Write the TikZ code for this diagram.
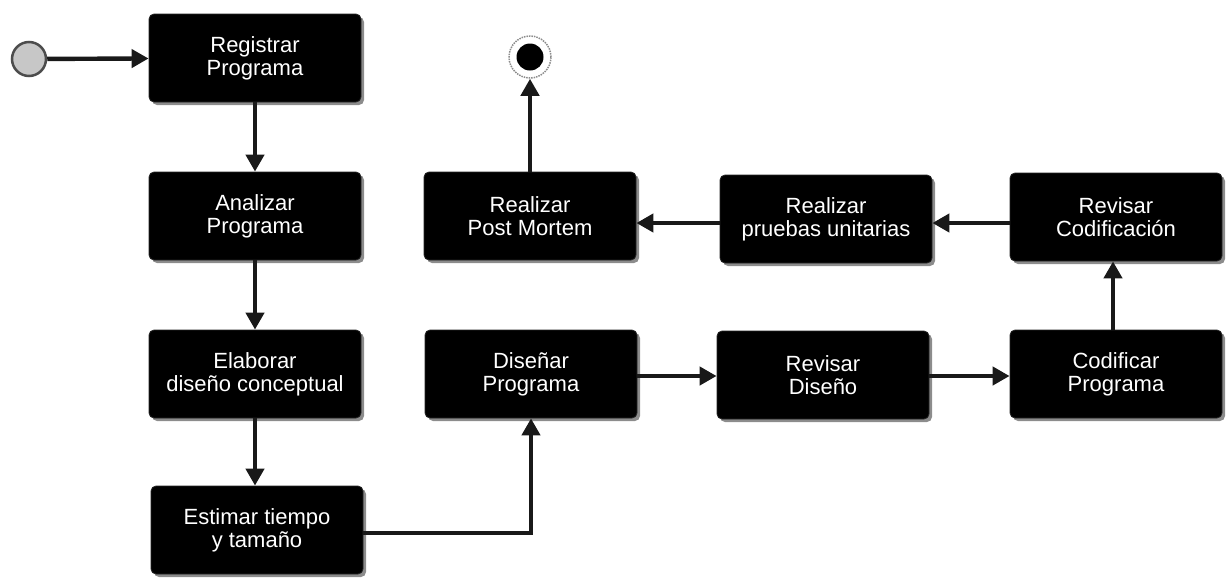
\documentclass[tikz,border=0pt]{standalone}
\usepackage{fontspec}
\setmainfont{Liberation Sans}
\usetikzlibrary{arrows.meta,shadows}
\begin{document}
\begin{tikzpicture}[x=1pt,y=-1pt,
  activity/.style={rectangle, rounded corners=5pt, fill=black, draw=black!85, line width=0.8pt,
    minimum width=212pt, minimum height=88pt, align=center, text=white,
    font=\fontsize{22}{23}\selectfont,
    drop shadow={shadow xshift=3pt, shadow yshift=-3pt, fill=black!45, opacity=1}},
  flow/.style={line width=4.4pt, draw=black!90, -{Triangle[width=18pt,length=17pt]}},
  startnode/.style={circle, minimum size=34pt, fill=black!22, draw=black!70, line width=2.5pt},
  endring/.style={circle, minimum size=42pt, draw=black!45, densely dotted, line width=1.5pt},
  enddot/.style={circle, minimum size=27pt, fill=black, inner sep=0pt}]
\useasboundingbox (0,0) rectangle (1227,579);

% initial and final states
\node[startnode] (ini) at (29,59) {};
\node[endring] (finring) at (530,57) {};
\node[enddot] (fin) at (530,57) {};

% activities
\node[activity] (reg) at (255,58) {Registrar\\Programa};
\node[activity] (ana) at (255,216) {Analizar\\Programa};
\node[activity] (ela) at (255,374) {Elaborar\\diseño conceptual};
\node[activity] (est) at (257,530) {Estimar tiempo\\y tamaño};
\node[activity] (dis) at (531,374) {Diseñar\\Programa};
\node[activity] (rdi) at (823,375) {Revisar\\Diseño};
\node[activity] (cod) at (1116,374) {Codificar\\Programa};
\node[activity] (rco) at (1116,217) {Revisar\\Codificación};
\node[activity] (pru) at (826,219) {Realizar\\pruebas unitarias};
\node[activity] (pos) at (530,216) {Realizar\\Post Mortem};

% control flow
\draw[flow] (ini) -- (reg);
\draw[flow] (reg) -- (ana);
\draw[flow] (ana) -- (ela);
\draw[flow] (ela) -- (est.north -| ela.south);
\draw[flow] (est.east |- 0,533) -| (dis.south);
\draw[flow] (dis.east |- 0,376) -- (rdi.west |- 0,376);
\draw[flow] (rdi.east |- 0,376) -- (cod.west |- 0,376);
\draw[flow] (cod.north -| 1113,0) -- (rco.south -| 1113,0);
\draw[flow] (rco.west |- 0,223) -- (pru.east |- 0,223);
\draw[flow] (pru.west |- 0,223) -- (pos.east |- 0,223);
\draw[flow] (pos.north) -- (finring.south);
\end{tikzpicture}
\end{document}
